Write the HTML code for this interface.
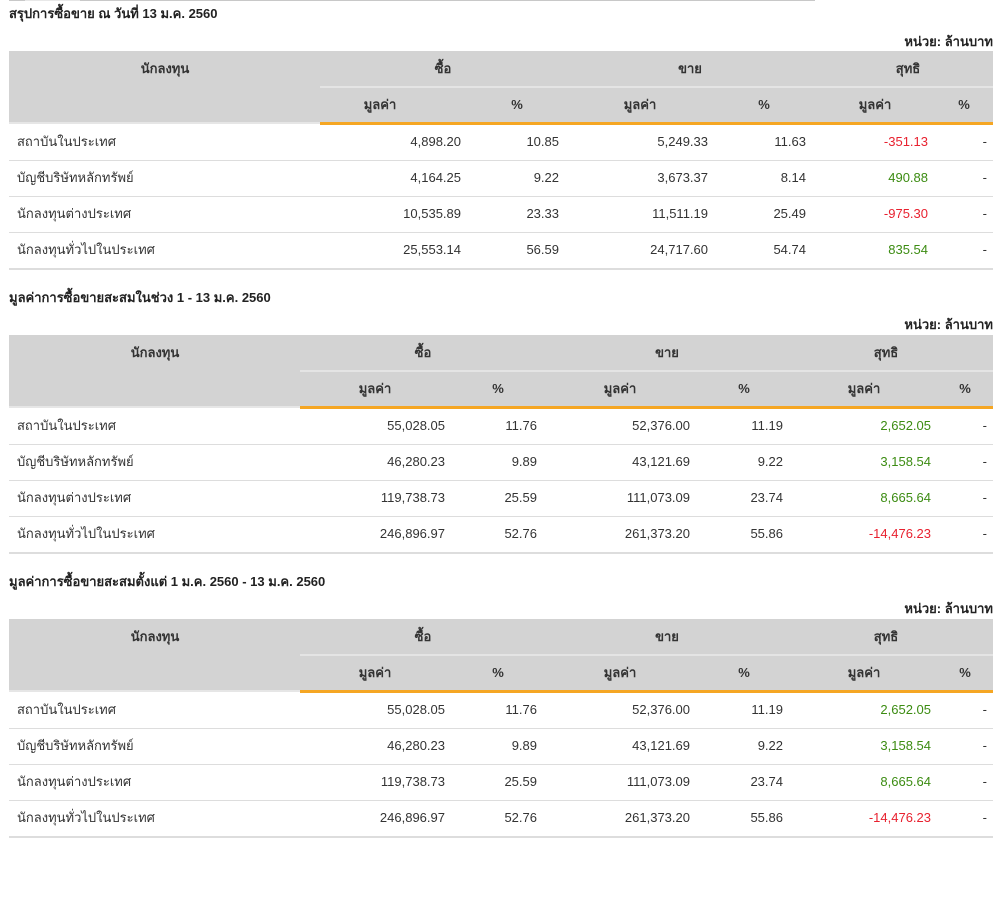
<!DOCTYPE html>
<html><head><meta charset="utf-8"><style>
*{margin:0;padding:0;box-sizing:border-box}
body{width:1005px;height:844px;background:#fff;position:relative;overflow:hidden;font-family:"Liberation Sans","DejaVu Sans",sans-serif;font-size:13px;color:#333}
.t{position:absolute;left:0;width:1005px;height:300px}
.a{position:absolute}
.c{position:absolute;width:200px;margin-left:-100px;text-align:center;line-height:36px;height:36px;font-weight:bold;color:#333}
.r{position:absolute;text-align:right;line-height:36px;height:36px;white-space:nowrap}
.l{position:absolute;left:17px;line-height:36px;height:36px;white-space:nowrap}
.ttl{position:absolute;left:9px;font-weight:bold;line-height:18px;color:#222}
.unit{position:absolute;right:12px;font-weight:bold;line-height:18px;color:#222}
.g{color:#3c8c12}.red{color:#e8212f}
</style></head><body>
<div class="a" style="left:9px;top:0;width:806px;height:1px;background:#c8c8c8"></div>
<div class="a" style="left:25px;top:0;width:55px;height:1px;background:#e8e8e8"></div>

<div class="ttl" style="top:5px">สรุปการซื้อขาย ณ วันที่ 13 ม.ค. 2560</div>
<div class="unit" style="top:33px">หน่วย: ล้านบาท</div>
<div class="t" style="top:51px">
<div class="a" style="left:9px;top:0;width:984px;height:72px;background:#d3d3d3"></div>
<div class="a" style="left:320px;top:35px;width:673px;height:2px;background:#e4e4e4"></div>
<div class="a" style="left:9px;top:71px;width:311px;height:2px;background:#e6e6e6"></div>
<div class="a" style="left:320px;top:71px;width:673px;height:3px;background:#f5a623"></div>
<div class="c" style="left:165px;top:0">นักลงทุน</div>
<div class="c" style="left:443px;top:0">ซื้อ</div>
<div class="c" style="left:690px;top:0">ขาย</div>
<div class="c" style="left:908px;top:0">สุทธิ</div>
<div class="c" style="left:380px;top:36px">มูลค่า</div>
<div class="c" style="left:517px;top:36px">%</div>
<div class="c" style="left:640px;top:36px">มูลค่า</div>
<div class="c" style="left:764px;top:36px">%</div>
<div class="c" style="left:875px;top:36px">มูลค่า</div>
<div class="c" style="left:964px;top:36px">%</div>
<div class="a" style="left:9px;top:109px;width:984px;height:1px;background:#ddd"></div>
<div class="a" style="left:9px;top:145px;width:984px;height:1px;background:#ddd"></div>
<div class="a" style="left:9px;top:181px;width:984px;height:1px;background:#ddd"></div>
<div class="a" style="left:9px;top:217px;width:984px;height:2px;background:#ddd"></div>
<div class="l" style="top:73px">สถาบันในประเทศ</div>
<div class="r" style="top:73px;right:544px">4,898.20</div><div class="r" style="top:73px;right:446px">10.85</div><div class="r" style="top:73px;right:297px">5,249.33</div><div class="r" style="top:73px;right:199px">11.63</div><div class="r red" style="top:73px;right:77px">-351.13</div><div class="r" style="top:73px;right:18px">-</div>
<div class="l" style="top:109px">บัญชีบริษัทหลักทรัพย์</div>
<div class="r" style="top:109px;right:544px">4,164.25</div><div class="r" style="top:109px;right:446px">9.22</div><div class="r" style="top:109px;right:297px">3,673.37</div><div class="r" style="top:109px;right:199px">8.14</div><div class="r g" style="top:109px;right:77px">490.88</div><div class="r" style="top:109px;right:18px">-</div>
<div class="l" style="top:145px">นักลงทุนต่างประเทศ</div>
<div class="r" style="top:145px;right:544px">10,535.89</div><div class="r" style="top:145px;right:446px">23.33</div><div class="r" style="top:145px;right:297px">11,511.19</div><div class="r" style="top:145px;right:199px">25.49</div><div class="r red" style="top:145px;right:77px">-975.30</div><div class="r" style="top:145px;right:18px">-</div>
<div class="l" style="top:181px">นักลงทุนทั่วไปในประเทศ</div>
<div class="r" style="top:181px;right:544px">25,553.14</div><div class="r" style="top:181px;right:446px">56.59</div><div class="r" style="top:181px;right:297px">24,717.60</div><div class="r" style="top:181px;right:199px">54.74</div><div class="r g" style="top:181px;right:77px">835.54</div><div class="r" style="top:181px;right:18px">-</div>
</div>

<div class="ttl" style="top:289px">มูลค่าการซื้อขายสะสมในช่วง 1 - 13 ม.ค. 2560</div>
<div class="unit" style="top:316px">หน่วย: ล้านบาท</div>
<div class="t" style="top:335px">
<div class="a" style="left:9px;top:0;width:984px;height:72px;background:#d3d3d3"></div>
<div class="a" style="left:300px;top:35px;width:693px;height:2px;background:#e4e4e4"></div>
<div class="a" style="left:9px;top:71px;width:291px;height:2px;background:#e6e6e6"></div>
<div class="a" style="left:300px;top:71px;width:693px;height:3px;background:#f5a623"></div>
<div class="c" style="left:155px;top:0">นักลงทุน</div>
<div class="c" style="left:423px;top:0">ซื้อ</div>
<div class="c" style="left:667px;top:0">ขาย</div>
<div class="c" style="left:886px;top:0">สุทธิ</div>
<div class="c" style="left:375px;top:36px">มูลค่า</div>
<div class="c" style="left:498px;top:36px">%</div>
<div class="c" style="left:620px;top:36px">มูลค่า</div>
<div class="c" style="left:744px;top:36px">%</div>
<div class="c" style="left:864px;top:36px">มูลค่า</div>
<div class="c" style="left:965px;top:36px">%</div>
<div class="a" style="left:9px;top:109px;width:984px;height:1px;background:#ddd"></div>
<div class="a" style="left:9px;top:145px;width:984px;height:1px;background:#ddd"></div>
<div class="a" style="left:9px;top:181px;width:984px;height:1px;background:#ddd"></div>
<div class="a" style="left:9px;top:217px;width:984px;height:2px;background:#ddd"></div>
<div class="l" style="top:73px">สถาบันในประเทศ</div>
<div class="r" style="top:73px;right:560px">55,028.05</div><div class="r" style="top:73px;right:468px">11.76</div><div class="r" style="top:73px;right:315px">52,376.00</div><div class="r" style="top:73px;right:222px">11.19</div><div class="r g" style="top:73px;right:74px">2,652.05</div><div class="r" style="top:73px;right:18px">-</div>
<div class="l" style="top:109px">บัญชีบริษัทหลักทรัพย์</div>
<div class="r" style="top:109px;right:560px">46,280.23</div><div class="r" style="top:109px;right:468px">9.89</div><div class="r" style="top:109px;right:315px">43,121.69</div><div class="r" style="top:109px;right:222px">9.22</div><div class="r g" style="top:109px;right:74px">3,158.54</div><div class="r" style="top:109px;right:18px">-</div>
<div class="l" style="top:145px">นักลงทุนต่างประเทศ</div>
<div class="r" style="top:145px;right:560px">119,738.73</div><div class="r" style="top:145px;right:468px">25.59</div><div class="r" style="top:145px;right:315px">111,073.09</div><div class="r" style="top:145px;right:222px">23.74</div><div class="r g" style="top:145px;right:74px">8,665.64</div><div class="r" style="top:145px;right:18px">-</div>
<div class="l" style="top:181px">นักลงทุนทั่วไปในประเทศ</div>
<div class="r" style="top:181px;right:560px">246,896.97</div><div class="r" style="top:181px;right:468px">52.76</div><div class="r" style="top:181px;right:315px">261,373.20</div><div class="r" style="top:181px;right:222px">55.86</div><div class="r red" style="top:181px;right:74px">-14,476.23</div><div class="r" style="top:181px;right:18px">-</div>
</div>

<div class="ttl" style="top:573px">มูลค่าการซื้อขายสะสมตั้งแต่ 1 ม.ค. 2560 - 13 ม.ค. 2560</div>
<div class="unit" style="top:600px">หน่วย: ล้านบาท</div>
<div class="t" style="top:619px">
<div class="a" style="left:9px;top:0;width:984px;height:72px;background:#d3d3d3"></div>
<div class="a" style="left:300px;top:35px;width:693px;height:2px;background:#e4e4e4"></div>
<div class="a" style="left:9px;top:71px;width:291px;height:2px;background:#e6e6e6"></div>
<div class="a" style="left:300px;top:71px;width:693px;height:3px;background:#f5a623"></div>
<div class="c" style="left:155px;top:0">นักลงทุน</div>
<div class="c" style="left:423px;top:0">ซื้อ</div>
<div class="c" style="left:667px;top:0">ขาย</div>
<div class="c" style="left:886px;top:0">สุทธิ</div>
<div class="c" style="left:375px;top:36px">มูลค่า</div>
<div class="c" style="left:498px;top:36px">%</div>
<div class="c" style="left:620px;top:36px">มูลค่า</div>
<div class="c" style="left:744px;top:36px">%</div>
<div class="c" style="left:864px;top:36px">มูลค่า</div>
<div class="c" style="left:965px;top:36px">%</div>
<div class="a" style="left:9px;top:109px;width:984px;height:1px;background:#ddd"></div>
<div class="a" style="left:9px;top:145px;width:984px;height:1px;background:#ddd"></div>
<div class="a" style="left:9px;top:181px;width:984px;height:1px;background:#ddd"></div>
<div class="a" style="left:9px;top:217px;width:984px;height:2px;background:#ddd"></div>
<div class="l" style="top:73px">สถาบันในประเทศ</div>
<div class="r" style="top:73px;right:560px">55,028.05</div><div class="r" style="top:73px;right:468px">11.76</div><div class="r" style="top:73px;right:315px">52,376.00</div><div class="r" style="top:73px;right:222px">11.19</div><div class="r g" style="top:73px;right:74px">2,652.05</div><div class="r" style="top:73px;right:18px">-</div>
<div class="l" style="top:109px">บัญชีบริษัทหลักทรัพย์</div>
<div class="r" style="top:109px;right:560px">46,280.23</div><div class="r" style="top:109px;right:468px">9.89</div><div class="r" style="top:109px;right:315px">43,121.69</div><div class="r" style="top:109px;right:222px">9.22</div><div class="r g" style="top:109px;right:74px">3,158.54</div><div class="r" style="top:109px;right:18px">-</div>
<div class="l" style="top:145px">นักลงทุนต่างประเทศ</div>
<div class="r" style="top:145px;right:560px">119,738.73</div><div class="r" style="top:145px;right:468px">25.59</div><div class="r" style="top:145px;right:315px">111,073.09</div><div class="r" style="top:145px;right:222px">23.74</div><div class="r g" style="top:145px;right:74px">8,665.64</div><div class="r" style="top:145px;right:18px">-</div>
<div class="l" style="top:181px">นักลงทุนทั่วไปในประเทศ</div>
<div class="r" style="top:181px;right:560px">246,896.97</div><div class="r" style="top:181px;right:468px">52.76</div><div class="r" style="top:181px;right:315px">261,373.20</div><div class="r" style="top:181px;right:222px">55.86</div><div class="r red" style="top:181px;right:74px">-14,476.23</div><div class="r" style="top:181px;right:18px">-</div>
</div>
</body></html>
